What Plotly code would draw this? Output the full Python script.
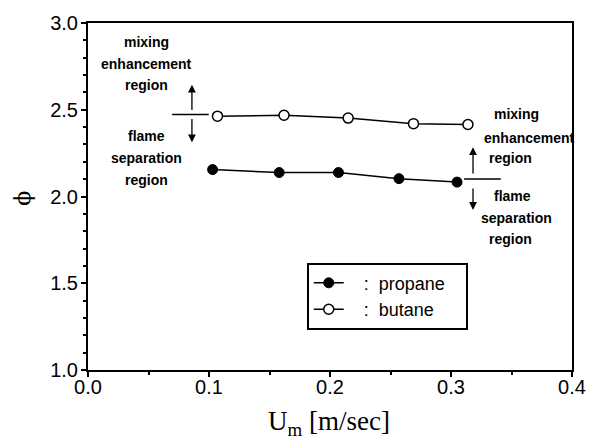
import plotly.graph_objects as go

# data
propane_x = [0.103, 0.158, 0.207, 0.257, 0.305]
propane_y = [2.155, 2.138, 2.138, 2.103, 2.083]
butane_x = [0.107, 0.162, 0.215, 0.269, 0.314]
butane_y = [2.463, 2.468, 2.452, 2.420, 2.415]

x_ticks = [0.0, 0.1, 0.2, 0.3, 0.4]
y_ticks = [1.0, 1.5, 2.0, 2.5, 3.0]

NB = "\u00a0"
fig = go.Figure()
fig.add_trace(go.Scatter(
    x=propane_x, y=propane_y, mode="lines+markers",
    name=NB * 3 + ":" + NB * 2 + "propane" + NB * 3,
    line=dict(color="black", width=1.5),
    marker=dict(symbol="circle", size=10, color="black", line=dict(color="black", width=1)),
))
fig.add_trace(go.Scatter(
    x=butane_x, y=butane_y, mode="lines+markers",
    name=NB * 3 + ":" + NB * 2 + "butane",
    line=dict(color="black", width=1.5),
    marker=dict(symbol="circle", size=10, color="white", line=dict(color="black", width=1.5)),
))

L, R, T, B = 88, 21, 21, 77
W, H = 598, 447
PW, PH = W - L - R, H - T - B

axis_common = dict(
    showgrid=False, zeroline=False, showline=True, linecolor="black", linewidth=2,
    mirror=True, ticks="outside", tickcolor="black", ticklen=5, tickwidth=1.5,
    tickfont=dict(family="Liberation Sans, Arial, sans-serif", size=20, color="black"),
)
fig.update_xaxes(range=[0, 0.4], tickvals=x_ticks, ticktext=[f"{v:.1f}" for v in x_ticks],
                 minor=dict(dtick=0.05, ticks="outside", ticklen=3, tickcolor="black"),
                 ticklabelstandoff=-7, **axis_common)
fig.update_yaxes(range=[1.0, 3.0], tickvals=y_ticks, ticktext=[f"{v:.1f}" for v in y_ticks],
                 minor=dict(dtick=0.1, ticks="outside", ticklen=3, tickcolor="black"),
                 ticklabelstandoff=-1, **axis_common)

def xd(px):
    return (px - L) / PW * 0.4

def yd(py):
    return 3.0 - (py - T) / PH * 2.0

shapes = [
    dict(type="line", x0=xd(173), x1=xd(210), y0=yd(113), y1=yd(113), line=dict(color="black", width=1.5)),
    dict(type="line", x0=xd(468), x1=xd(505), y0=yd(178), y1=yd(178), line=dict(color="black", width=1.5)),
]
fig.update_layout(shapes=shapes)

anns = []
def arrow(xp, tail, tip):
    anns.append(dict(x=xd(xp), y=yd(tip), ax=xd(xp), ay=yd(tail), xref="x", yref="y",
                     axref="x", ayref="y", showarrow=True, arrowhead=2, arrowsize=1.2,
                     arrowwidth=1.3, arrowcolor="black", text=""))
arrow(193, 110, 83)
arrow(193, 116, 141)
arrow(477, 174, 146)
arrow(477, 186, 209)

tf = dict(family="Liberation Sans, Arial, sans-serif", size=14, color="black")
def txt(s, xp, yp):
    anns.append(dict(x=xd(xp), y=yd(yp), xref="x", yref="y", text=f"<b>{s}</b>",
                     showarrow=False, font=tf, xanchor="center", yanchor="middle"))
for s, yp in [("mixing", 40), ("enhancement", 62), ("region", 83),
              ("flame", 135), ("separation", 157), ("region", 179)]:
    txt(s, 147, yp)
for s, xp, yp in [("mixing", 521, 113), ("enhancement", 534, 137), ("region", 515, 157),
                  ("flame", 517, 195), ("separation", 521, 217), ("region", 515, 238)]:
    txt(s, xp, yp)

# axis titles
anns.append(dict(x=(22 - L) / PW, y=yd(197), xref="paper", yref="y", text="ϕ", textangle=-90,
                 showarrow=False,
                 font=dict(family="DejaVu Serif, Liberation Serif, serif", size=22, color="black"),
                 xanchor="center", yanchor="middle"))
anns.append(dict(x=(331 - L) / PW, y=-(423 - (T + PH)) / PH, xref="paper", yref="paper",
                 text="U<sub>m</sub> [m/sec]", showarrow=False,
                 font=dict(family="Liberation Serif, Times New Roman, serif", size=27, color="black"),
                 xanchor="center", yanchor="middle"))
fig.update_layout(annotations=anns)

fig.update_layout(
    width=W, height=H, margin=dict(l=L, r=R, t=T, b=B),
    paper_bgcolor="white", plot_bgcolor="white",
    showlegend=True,
    legend=dict(x=(309 - L) / PW, y=(T + PH - 262) / PH, xanchor="left", yanchor="top",
                bordercolor="black", borderwidth=2, bgcolor="white",
                font=dict(family="Liberation Sans, Arial, sans-serif", size=18, color="black")),
)

fig.write_html("out.html", config={"displayModeBar": False},
               post_script="document.body.style.margin='0px';")
